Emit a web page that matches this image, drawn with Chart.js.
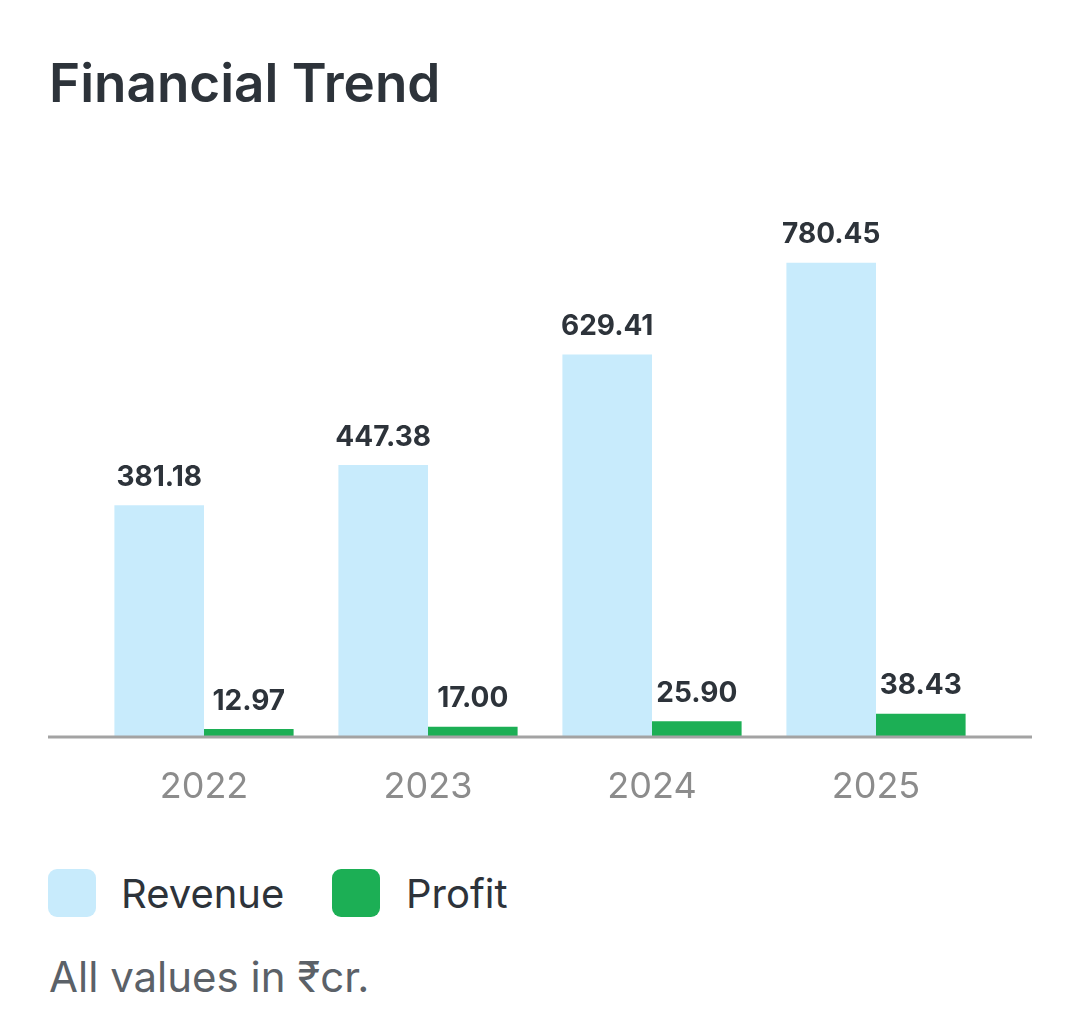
<!DOCTYPE html>
<html>
<head>
<meta charset="utf-8">
<script src="https://cdn.jsdelivr.net/npm/chart.js@4.4.1/dist/chart.umd.min.js"></script>
<style>
  html, body { margin:0; padding:0; background:#ffffff; width:1080px; height:1036px; overflow:hidden; font-family: Inter, "Noto Sans", sans-serif; }
  #title { position:absolute; left:49px; top:57px; font-size:53px; line-height:53px; font-weight:600; color:#2d333a; white-space:nowrap; }
  #wrap { position:absolute; left:0; top:150px; width:1080px; height:700px; }
  .lg-box { position:absolute; width:48px; height:48px; border-radius:9px; top:869px; }
  .lg-txt { position:absolute; font-size:40px; line-height:40px; color:#2d333a; top:874px; white-space:nowrap; }
  #note { position:absolute; left:49px; top:956px; font-size:42px; line-height:42px; color:#5b6168; white-space:nowrap; }
</style>
</head>
<body>
<div id="title">Financial Trend</div>
<div id="wrap"><canvas id="c"></canvas></div>
<div class="lg-box" style="left:48px;background:#c8ebfc;"></div>
<div class="lg-txt" style="left:121px;">Revenue</div>
<div class="lg-box" style="left:332px;background:#1caf55;"></div>
<div class="lg-txt" style="left:406px;">Profit</div>
<div id="note">All values in ₹cr.</div>
<script>
const categories = ["2022", "2023", "2024", "2025"];
const revenue = [381.18, 447.38, 629.41, 780.45];
const profit = [12.97, 17.00, 25.90, 38.43];
const seriesNames = ["Revenue", "Profit"];
const seriesColors = ["#c8ebfc", "#1caf55"];

const valueLabels = {
  id: 'valueLabels',
  afterDatasetsDraw(chart) {
    const ctx = chart.ctx;
    ctx.save();
    ctx.font = '700 28px Inter, "Noto Sans", sans-serif';
    ctx.fillStyle = '#2d333a';
    ctx.textAlign = 'center';
    ctx.textBaseline = 'middle';
    chart.data.datasets.forEach((ds, di) => {
      const meta = chart.getDatasetMeta(di);
      meta.data.forEach((bar, i) => {
        ctx.fillText(ds.data[i].toFixed(2), bar.x, bar.y - 28);
      });
    });
    ctx.restore();
  }
};

const baseline = {
  id: 'baseline',
  afterDatasetsDraw(chart) {
    const ctx = chart.ctx;
    const y = chart.scales.y.getPixelForValue(0);
    ctx.save();
    ctx.strokeStyle = '#a3a3a3';
    ctx.lineWidth = 3;
    ctx.beginPath();
    ctx.moveTo(48, y);
    ctx.lineTo(1032, y);
    ctx.stroke();
    ctx.restore();
  }
};

new Chart(document.getElementById('c'), {
  type: 'bar',
  data: {
    labels: categories,
    datasets: [
      { label: seriesNames[0], data: revenue, backgroundColor: seriesColors[0], barPercentage: 1, categoryPercentage: 0.8 },
      { label: seriesNames[1], data: profit, backgroundColor: seriesColors[1], barPercentage: 1, categoryPercentage: 0.8 }
    ]
  },
  options: {
    responsive: true,
    maintainAspectRatio: false,
    animation: false,
    layout: { padding: { left: 92, right: 92, top: 40, bottom: 0 } },
    plugins: { legend: { display: false }, tooltip: { enabled: false } },
    scales: {
      x: {
        grid: { display: false, drawTicks: false },
        border: { display: false },
        ticks: { color: '#8c8c8c', font: { family: 'Inter, "Noto Sans", sans-serif', size: 36 }, padding: 29 },
        afterFit(scale) { scale.height = 113; }
      },
      y: {
        display: false,
        min: 0,
        max: 900
      }
    }
  },
  plugins: [valueLabels, baseline]
});
</script>
</body>
</html>
